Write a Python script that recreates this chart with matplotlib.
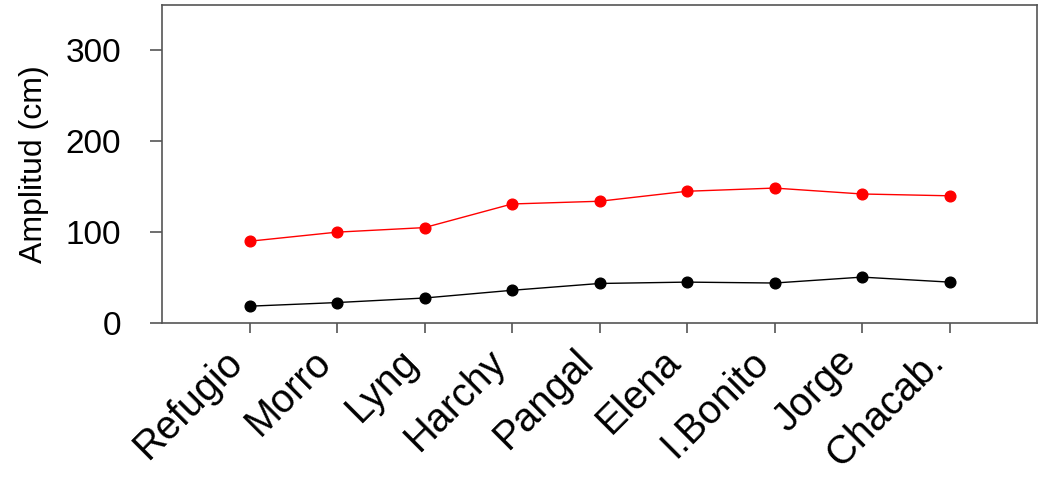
import matplotlib.pyplot as plt
from matplotlib.transforms import offset_copy

plt.rcParams['font.family'] = ['Liberation Sans', 'DejaVu Sans']

sitios = ["Refugio", "Morro", "Lyng", "Harchy", "Pangal", "Elena", "I.Bonito", "Jorge", "Chacab."]
amp_max = [90, 100, 105, 131, 134, 145, 148.5, 142, 140]
amp_min = [18.5, 22.5, 27.5, 36, 43.5, 45, 44, 50.5, 45]

x = list(range(1, len(sitios) + 1))

fig = plt.figure(figsize=(10.43, 4.78), dpi=100)
ax = fig.add_axes([162 / 1043, 1 - 323 / 478, (1037 - 162) / 1043, (323 - 5) / 478])

ax.plot(x, amp_max, color="red", lw=1.0, marker="o", ms=7.7, zorder=3)
ax.plot(x, amp_min, color="black", lw=1.0, marker="o", ms=7.7, zorder=3)

ax.set_xlim(0, 10)
ax.set_ylim(0, 350)
ax.set_yticks([0, 100, 200, 300])
ax.set_xticks(x)
ax.set_xticklabels([])

# etiquetas giradas, corridas a la izquierda de cada marca
trans_lab = offset_copy(ax.get_xaxis_transform(), fig=fig, x=-15, y=-30, units="dots")
for xi, nombre in zip(x, sitios):
    ax.text(xi, 0, nombre, transform=trans_lab, rotation=45, ha="right",
            va="center_baseline", rotation_mode="anchor", fontsize=28.5,
            clip_on=False)

ax.tick_params(axis="both", direction="out", width=1.2, color="#555555")
ax.tick_params(axis="y", length=8.6, labelsize=24, pad=21)
ax.tick_params(axis="x", length=7.5)
for s in ax.spines.values():
    s.set_color("#555555")
    s.set_linewidth(1.2)
ax.set_ylabel("Amplitud (cm)", fontsize=23, labelpad=12)

fig.savefig("out.png", dpi=100)
